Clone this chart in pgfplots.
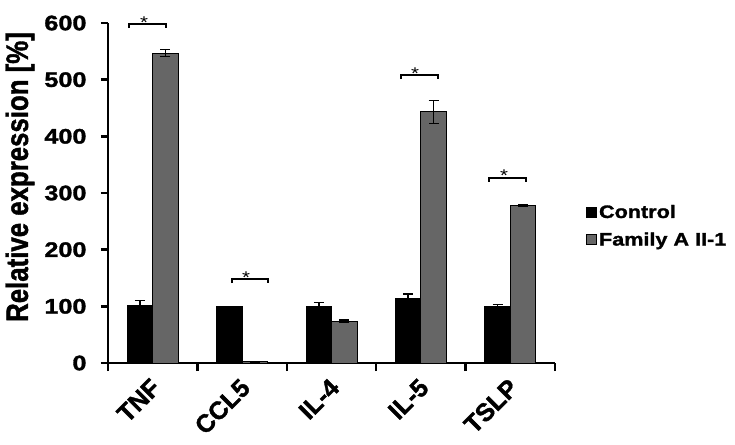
\documentclass[border=0pt]{standalone}
\usepackage{fontspec}
\setmainfont{Liberation Sans}[FakeStretch=1.2, BoldFeatures={FakeBold=1.5}]
\newfontfamily\plainsans{Liberation Sans}[BoldFeatures={FakeBold=1.5}]
\usepackage{graphicx}
\usepackage{pgfplots}
\pgfplotsset{compat=1.18}
\definecolor{famgray}{HTML}{666666}

\begin{document}
\begin{tikzpicture}
\begin{axis}[
    at={(0,0)}, anchor=south west,
    scale only axis, width=447pt, height=340pt,
    xmin=-0.5, xmax=4.5, ymin=0, ymax=600,
    ybar=0pt, bar width=25.5pt,
    axis x line=bottom, axis y line=left,
    axis line style={-, line width=2.5pt},
    xtick={0,1,2,3,4},
    xticklabels={TNF,CCL5,IL-4,IL-5,TSLP},
    minor xtick={-0.5,0.5,1.5,2.5,3.5,4.5},
    major x tick style={draw=none},
    minor x tick style={line width=2.5pt, black},
    ytick={0,100,...,600},
    y tick style={line width=2.5pt, black},
    major tick length=7pt, minor tick length=8pt,
    tick align=outside,
    /pgf/number format/assume math mode=true,
    tick label style={font=\fontsize{21}{25}\selectfont\bfseries},
    yticklabel style={xshift=-11pt},
    xticklabel style={font=\fontsize{25}{28}\selectfont\plainsans\bfseries,
        xshift=-3pt, yshift=-7pt, rotate=45, anchor=north east, inner sep=0pt},
    ylabel={\fontsize{25.8}{30}\selectfont\plainsans\bfseries\scalebox{1}[1.2]{Relative expression [\%]}},
    ylabel style={at={(axis description cs:-0.197,0.547)}, anchor=center},
    legend style={at={(1.069,0.403)}, anchor=west, draw=none, fill=none,
        font=\fontsize{18}{21}\selectfont\bfseries, row sep=9pt, inner sep=0pt,
        nodes={inner sep=2pt}, legend cell align=left},
    legend image code/.code={\draw[#1] (0pt,-5pt) rectangle (10pt,5pt);},
    clip=false,
    error bars/error bar style={line width=1.5pt, black},
    error bars/error mark options={rotate=90, mark size=5pt, line width=1.5pt, black},
]
\addplot[fill=black, draw=black, line width=1pt,
    error bars/.cd, y dir=both, y explicit] coordinates {
    (0,102) +- (0,8)
    (1,99) +- (0,1)
    (2,99) +- (0,8)
    (3,114) +- (0,8)
    (4,99) +- (0,4)
};
\addlegendentry{Control}
\addplot[fill=famgray, draw=black, line width=1pt,
    error bars/.cd, y dir=both, y explicit] coordinates {
    (0,547) +- (0,6)
    (1,2) +- (0,1)
    (2,74) +- (0,2)
    (3,443) +- (0,20)
    (4,278) +- (0,2)
};
\addlegendentry{Family A II-1}

% significance brackets
\draw[line width=2pt] (axis cs:-0.262,591) -- (axis cs:-0.262,598) -- (axis cs:0.149,598) -- (axis cs:0.149,591);
\node[font=\fontsize{17}{20}\selectfont, anchor=base, inner sep=0pt] at (axis cs:-0.097,591) {*};
\draw[line width=2pt] (axis cs:0.884,141) -- (axis cs:0.884,148) -- (axis cs:1.293,148) -- (axis cs:1.293,141);
\node[font=\fontsize{17}{20}\selectfont, anchor=base, inner sep=0pt] at (axis cs:1.044,141) {*};
\draw[line width=2pt] (axis cs:2.78,501) -- (axis cs:2.78,508) -- (axis cs:3.19,508) -- (axis cs:3.19,501);
\node[font=\fontsize{17}{20}\selectfont, anchor=base, inner sep=0pt] at (axis cs:2.935,501) {*};
\draw[line width=2pt] (axis cs:3.76,320) -- (axis cs:3.76,327) -- (axis cs:4.18,327) -- (axis cs:4.18,320);
\node[font=\fontsize{17}{20}\selectfont, anchor=base, inner sep=0pt] at (axis cs:3.93,320) {*};
\end{axis}
\pgfresetboundingbox
\path (-108pt,-81pt) rectangle (627pt,363pt);
\end{tikzpicture}
\end{document}
